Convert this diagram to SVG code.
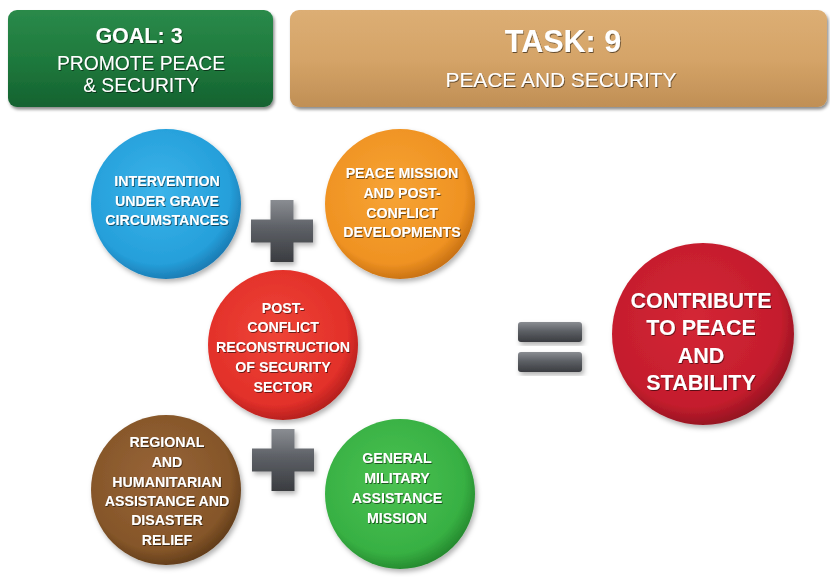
<svg xmlns="http://www.w3.org/2000/svg" width="830" height="577" viewBox="0 0 830 577">
<defs>
  <filter id="sh" x="-10%" y="-10%" width="125%" height="130%">
    <feDropShadow dx="1.5" dy="2.5" stdDeviation="1.8" flood-color="#000" flood-opacity="0.45"/>
  </filter>
  <filter id="csh" x="-15%" y="-15%" width="135%" height="135%">
    <feDropShadow dx="2" dy="3" stdDeviation="2.5" flood-color="#000" flood-opacity="0.3"/>
  </filter>
  <filter id="tsh" x="-10%" y="-20%" width="120%" height="150%">
    <feDropShadow dx="0.8" dy="1" stdDeviation="0.6" flood-color="#000" flood-opacity="0.55"/>
  </filter>
  <linearGradient id="gGreen" x1="0" y1="0" x2="0" y2="1">
    <stop offset="0" stop-color="#2a8a4a"/><stop offset="0.5" stop-color="#1f7a3d"/><stop offset="1" stop-color="#146230"/>
  </linearGradient>
  <linearGradient id="gTan" x1="0" y1="0" x2="0" y2="1">
    <stop offset="0" stop-color="#dcae74"/><stop offset="0.5" stop-color="#d5a468"/><stop offset="1" stop-color="#c08f55"/>
  </linearGradient>
  <radialGradient id="rBlue" cx="0.45" cy="0.42" r="0.6">
    <stop offset="0" stop-color="#3bb4ea"/><stop offset="0.8" stop-color="#259fda"/><stop offset="1" stop-color="#1a78b0"/>
  </radialGradient>
  <radialGradient id="rOrange" cx="0.45" cy="0.42" r="0.6">
    <stop offset="0" stop-color="#f7a435"/><stop offset="0.8" stop-color="#ef9222"/><stop offset="1" stop-color="#c46e12"/>
  </radialGradient>
  <radialGradient id="rRed" cx="0.45" cy="0.42" r="0.6">
    <stop offset="0" stop-color="#ef4436"/><stop offset="0.8" stop-color="#e2302a"/><stop offset="1" stop-color="#b01e1c"/>
  </radialGradient>
  <radialGradient id="rBrown" cx="0.45" cy="0.42" r="0.6">
    <stop offset="0" stop-color="#986438"/><stop offset="0.8" stop-color="#855629"/><stop offset="1" stop-color="#5e3a18"/>
  </radialGradient>
  <radialGradient id="rGreen" cx="0.45" cy="0.42" r="0.6">
    <stop offset="0" stop-color="#4cc252"/><stop offset="0.8" stop-color="#37b043"/><stop offset="1" stop-color="#24862c"/>
  </radialGradient>
  <radialGradient id="rBig" cx="0.45" cy="0.42" r="0.6">
    <stop offset="0" stop-color="#d42635"/><stop offset="0.8" stop-color="#c41d2d"/><stop offset="1" stop-color="#8f1220"/>
  </radialGradient>
  <linearGradient id="gOp" x1="0" y1="0" x2="0" y2="1">
    <stop offset="0" stop-color="#8a8d92"/><stop offset="0.45" stop-color="#5d6066"/><stop offset="1" stop-color="#3a3c40"/>
  </linearGradient>
  <path id="plus" d="M-11.5,-31 h23 v19.5 h19.5 v23 h-19.5 v19.5 h-23 v-19.5 h-19.5 v-23 h19.5 z"/>
</defs>
<style>
  text { font-family: "Liberation Sans", Arial, sans-serif; fill: #ffffff; text-anchor: middle; }
  .t { filter: url(#tsh); }
  .b { font-weight: bold; }
  .c { font-weight: bold; font-size: 14.2px; }
  .big { font-weight: bold; font-size: 21.5px; }
  .circ { filter: url(#csh); }
  .op { fill: url(#gOp); filter: url(#csh); }
</style>
<rect width="830" height="577" fill="#ffffff"/>

<g id="goal">
  <rect x="8" y="10" width="265" height="97" rx="9" fill="url(#gGreen)" filter="url(#sh)"/>
  <g class="t">
    <text x="139" y="43" class="b" font-size="21.5">GOAL: 3</text>
    <text x="141" y="70" font-size="19.3">PROMOTE PEACE</text>
    <text x="141" y="92" font-size="19.3">&amp; SECURITY</text>
  </g>
</g>

<g id="task">
  <rect x="290" y="10" width="537" height="97" rx="9" fill="url(#gTan)" filter="url(#sh)"/>
  <g class="t">
    <text x="563" y="52" class="b" font-size="30.5">TASK: 9</text>
    <text x="561" y="87" font-size="20.9">PEACE AND SECURITY</text>
  </g>
</g>

<g id="connectors">
  <use href="#plus" x="282" y="231" class="op"/>
  <use href="#plus" x="283" y="460" class="op"/>
  <rect x="518" y="322" width="64" height="20" rx="3" class="op"/>
  <rect x="518" y="352" width="64" height="20" rx="3" class="op"/>
</g>

<g id="intervention">
  <circle cx="166" cy="204" r="75" fill="url(#rBlue)" class="circ"/>
  <g class="t">
    <text x="167" y="186" class="c">INTERVENTION</text>
    <text x="167" y="206" class="c">UNDER GRAVE</text>
    <text x="167" y="225" class="c">CIRCUMSTANCES</text>
  </g>
</g>

<g id="peace-mission">
  <circle cx="400" cy="204" r="75" fill="url(#rOrange)" class="circ"/>
  <g class="t">
    <text x="402" y="178" class="c">PEACE MISSION</text>
    <text x="402" y="198" class="c">AND POST-</text>
    <text x="402" y="218" class="c">CONFLICT</text>
    <text x="402" y="237" class="c">DEVELOPMENTS</text>
  </g>
</g>

<g id="reconstruction">
  <circle cx="283" cy="345" r="75" fill="url(#rRed)" class="circ"/>
  <g class="t">
    <text x="283" y="313" class="c">POST-</text>
    <text x="283" y="332" class="c">CONFLICT</text>
    <text x="283" y="352" class="c" font-size="13.3">RECONSTRUCTION</text>
    <text x="283" y="372" class="c">OF SECURITY</text>
    <text x="283" y="392" class="c">SECTOR</text>
  </g>
</g>

<g id="regional">
  <circle cx="166" cy="490" r="75" fill="url(#rBrown)" class="circ"/>
  <g class="t">
    <text x="167" y="447" class="c">REGIONAL</text>
    <text x="167" y="467" class="c">AND</text>
    <text x="167" y="487" class="c">HUMANITARIAN</text>
    <text x="167" y="506" class="c">ASSISTANCE AND</text>
    <text x="167" y="525" class="c">DISASTER</text>
    <text x="167" y="545" class="c">RELIEF</text>
  </g>
</g>

<g id="military">
  <circle cx="400" cy="494" r="75" fill="url(#rGreen)" class="circ"/>
  <g class="t">
    <text x="397" y="463" class="c">GENERAL</text>
    <text x="397" y="483" class="c">MILITARY</text>
    <text x="397" y="503" class="c">ASSISTANCE</text>
    <text x="397" y="523" class="c">MISSION</text>
  </g>
</g>

<g id="result">
  <circle cx="703" cy="334" r="91" fill="url(#rBig)" class="circ"/>
  <g class="t">
    <text x="701" y="308" class="big">CONTRIBUTE</text>
    <text x="701" y="335" class="big">TO PEACE</text>
    <text x="701" y="363" class="big">AND</text>
    <text x="701" y="390" class="big">STABILITY</text>
  </g>
</g>
</svg>
